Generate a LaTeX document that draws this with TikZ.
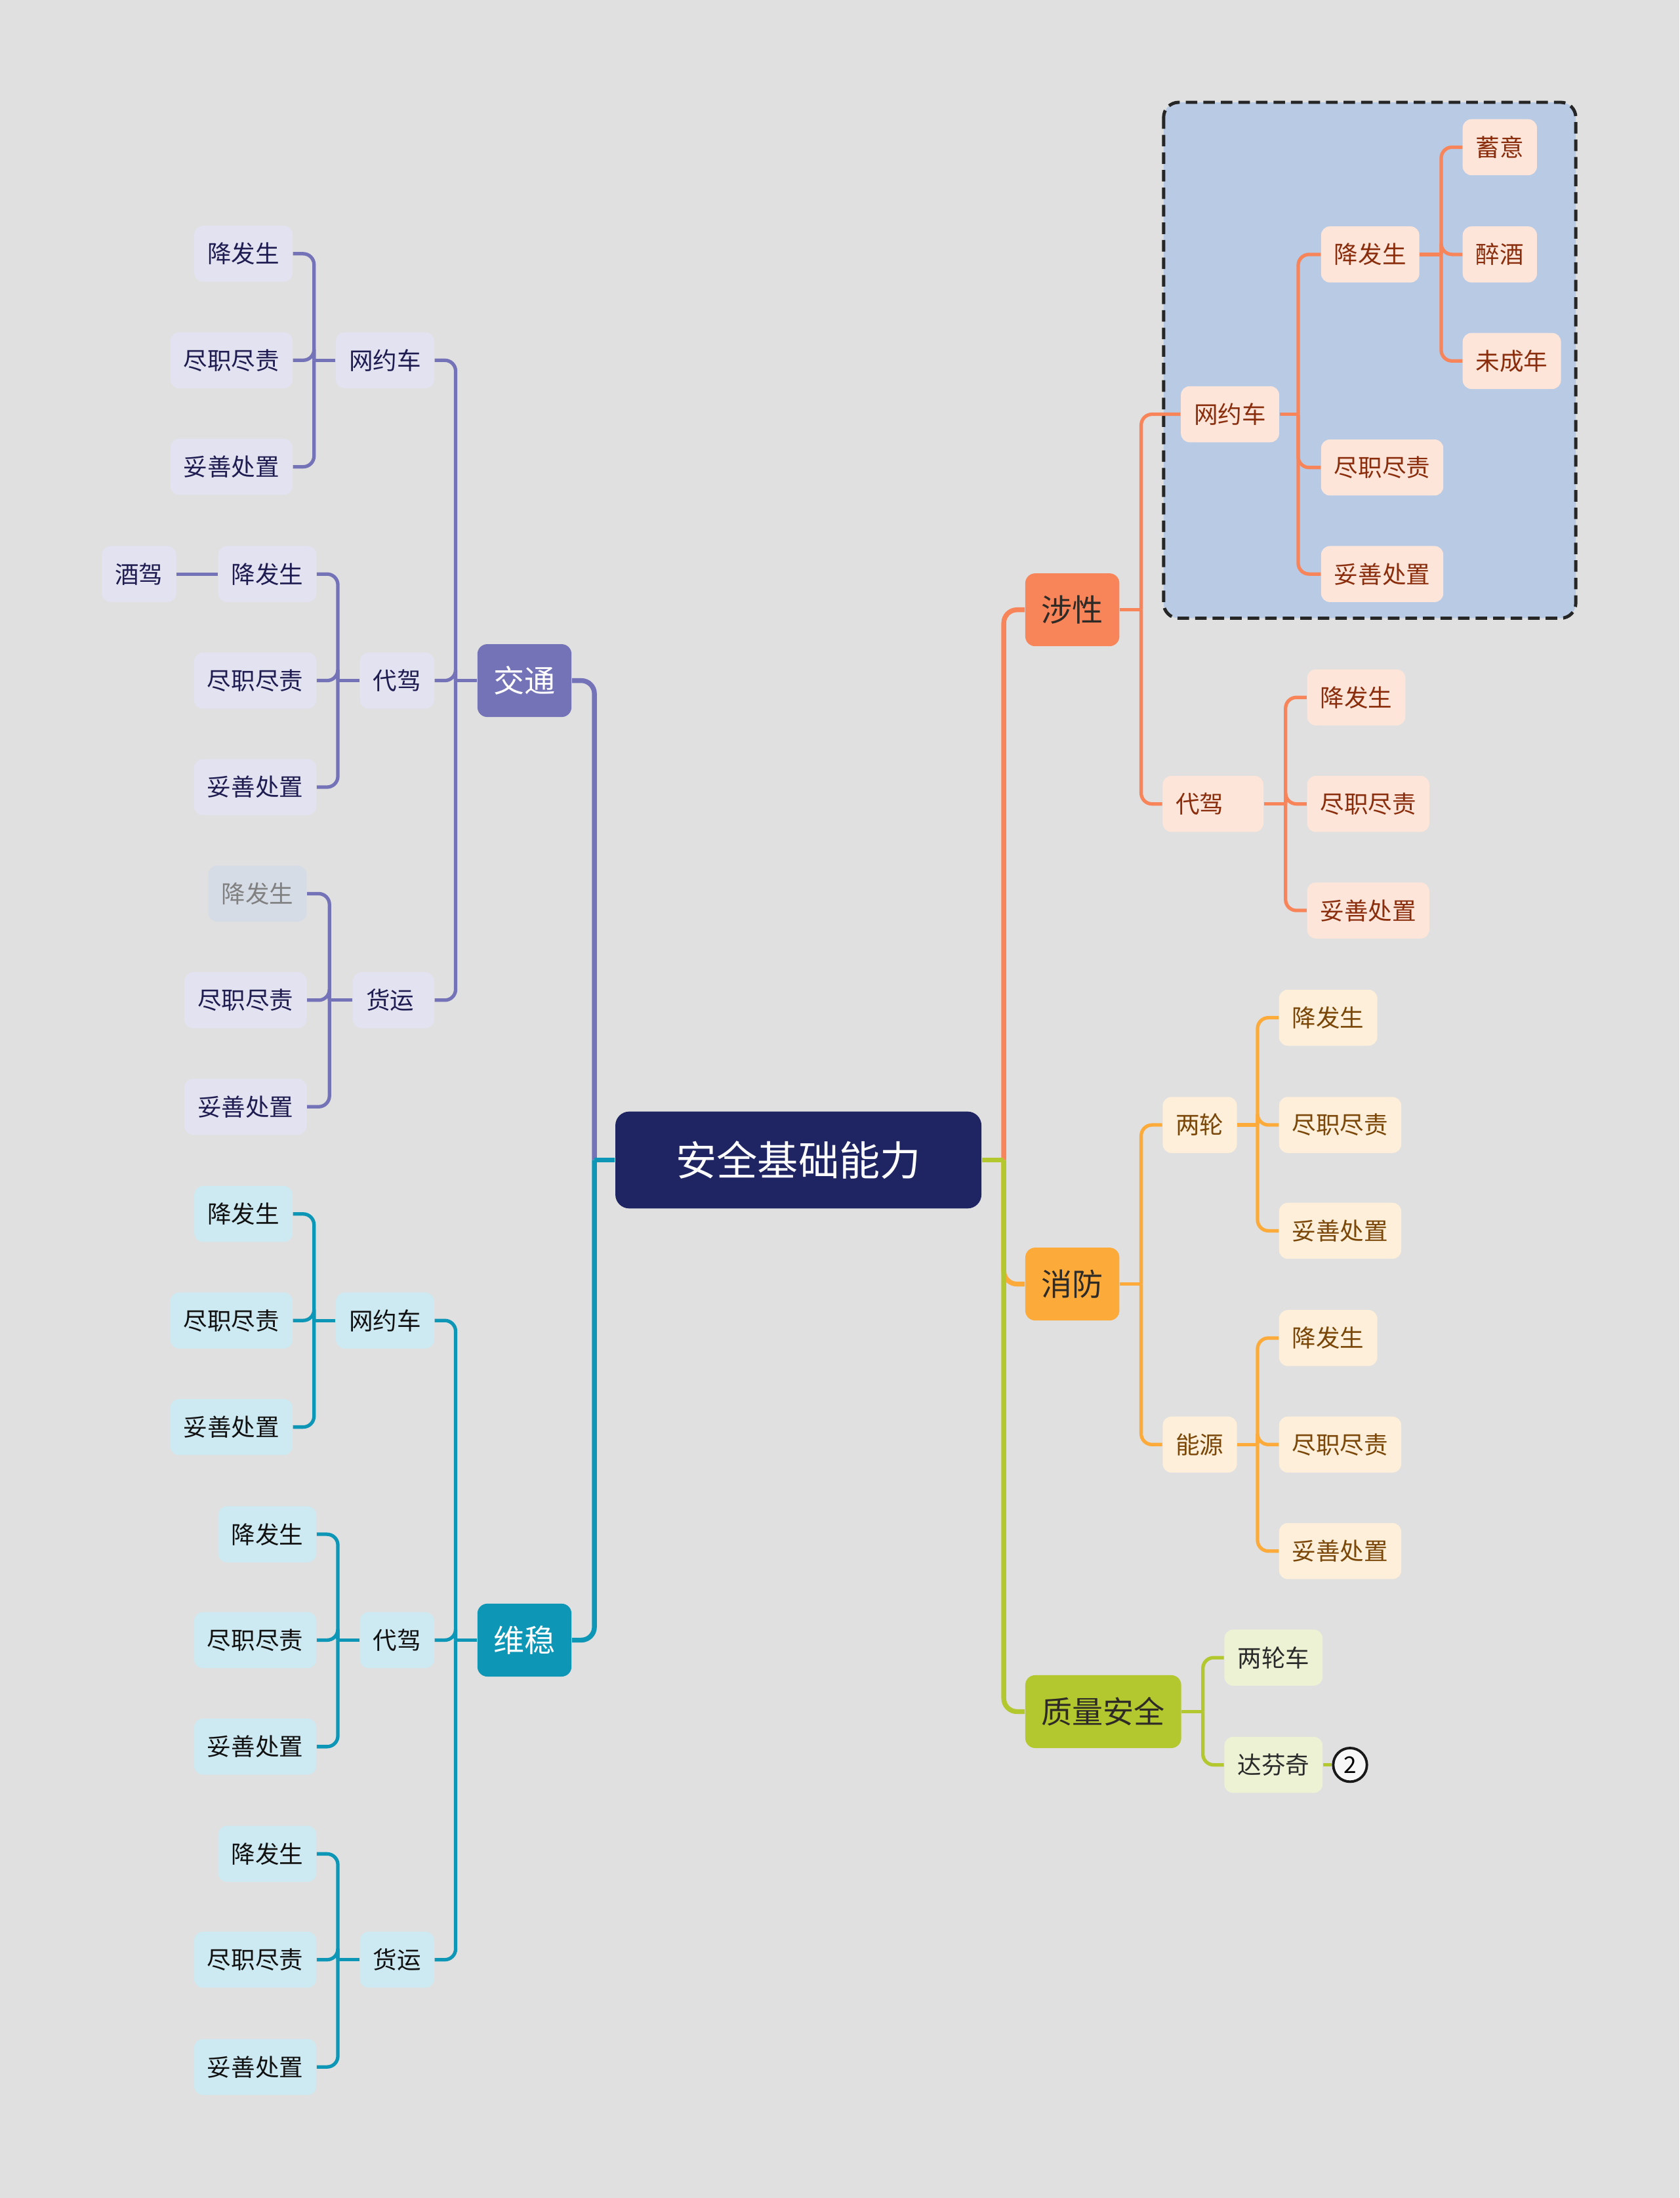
\documentclass[tikz,border=0pt]{standalone}
\usepackage{fontspec}
\setmainfont{Noto Sans CJK SC}
\definecolor{bgc}{HTML}{E0E0E0}
\definecolor{pur}{HTML}{7573B8}
\definecolor{tea}{HTML}{0E96B6}
\definecolor{ora}{HTML}{F8845A}
\definecolor{yel}{HTML}{FCAB3B}
\definecolor{grn}{HTML}{B3C72E}
\definecolor{rootc}{HTML}{1F2462}
\definecolor{jtf}{HTML}{E3E2F1}
\definecolor{jtt}{HTML}{1E1C50}
\definecolor{gryf}{HTML}{D6DCE6}
\definecolor{gryt}{HTML}{808080}
\definecolor{wsf}{HTML}{CDE9F2}
\definecolor{wst}{HTML}{111111}
\definecolor{sxf}{HTML}{FDE5DA}
\definecolor{sxt}{HTML}{8A2D0C}
\definecolor{xff}{HTML}{FDEFD9}
\definecolor{xft}{HTML}{7A4709}
\definecolor{zlf}{HTML}{EEF2D4}
\definecolor{zlt}{HTML}{2A2A2A}
\definecolor{dboxf}{HTML}{B8CAE4}
\definecolor{dkt}{HTML}{2E2A26}
\begin{document}
\begin{tikzpicture}[x=0.021369cm, y=-0.021369cm,
  leaf/.style={rounded corners=3.8pt, minimum height=24.3pt, inner xsep=5.7pt, inner ysep=0pt, font=\fontsize{10.4}{12}\selectfont},
  lone/.style={rounded corners=4.3pt, minimum height=31.6pt, inner xsep=7pt, inner ysep=0pt, font=\fontsize{13.4}{15}\selectfont},
  rootbox/.style={rounded corners=6pt, minimum width=158.7pt, minimum height=42pt, fill=rootc, text=white, font=\fontsize{17.7}{20}\selectfont},
  jl/.style={leaf, fill=jtf, text=jtt, anchor=east},
  jg/.style={leaf, fill=gryf, text=gryt, anchor=east},
  wl/.style={leaf, fill=wsf, text=wst, anchor=east},
  sl/.style={leaf, fill=sxf, text=sxt, anchor=west},
  xl/.style={leaf, fill=xff, text=xft, anchor=west},
  zlleaf/.style={leaf, fill=zlf, text=zlt, anchor=west},
  mainln/.style={line width=2.1pt, rounded corners=5.7pt},
  subln/.style={line width=1.5pt, rounded corners=4.7pt},
  dbox/.style={fill=dboxf, draw=black!85, line width=1.4pt, dash pattern=on 5pt off 2.6pt, rounded corners=6.5pt},
  numc/.style={circle, draw=black!90, line width=1.1pt, fill=white!97!black, minimum size=14.6pt, inner sep=0pt, font=\fontsize{10}{12}\selectfont}
]
\fill[bgc] (0,0) rectangle (1198,1568);
\useasboundingbox (0,0) rectangle (1198,1568);
\draw[dbox] (830,73) rectangle (1124,441);

% spine coordinates
\coordinate (vL0) at (424,0);
\coordinate (vR0) at (716,0);
\coordinate (vjt) at (325,0);
\coordinate (vjt1) at (224,0);
\coordinate (vjt2) at (241,0);
\coordinate (vjt3) at (235,0);
\coordinate (vws) at (325,0);
\coordinate (vws1) at (224,0);
\coordinate (vws2) at (241,0);
\coordinate (vws3) at (241,0);
\coordinate (vsx) at (814,0);
\coordinate (vsx1) at (926,0);
\coordinate (vsx1a) at (1028,0);
\coordinate (vsx2) at (917,0);
\coordinate (vxf) at (814,0);
\coordinate (vxf1) at (897,0);
\coordinate (vxf2) at (897,0);
\coordinate (vzl) at (858,0);

% root
\node[rootbox] (root) at (569.5,827.5) {安全基础能力};

% level 1
\node[lone, fill=pur, text=white, anchor=east] (jt) at (408,485.5) {交通};
\node[lone, fill=tea, text=white, anchor=east] (ws) at (408,1170) {维稳};
\node[lone, fill=ora, text=dkt, anchor=west] (sx) at (731,435) {涉性};
\node[lone, fill=yel, text=dkt, anchor=west] (xf) at (731,916) {消防};
\node[lone, fill=grn, text=dkt, anchor=west] (zl) at (731,1221) {质量安全};

% 交通 subtree
\node[jl] (jt1) at (310,257) {网约车};
\node[jl] (jt1a) at (209,181) {降发生};
\node[jl] (jt1b) at (209,257) {尽职尽责};
\node[jl] (jt1c) at (209,333) {妥善处置};
\node[jl] (jt2) at (310,485.5) {代驾};
\node[jl] (jt2a) at (226,409.5) {降发生};
\node[jl] (jt2x) at (126,409.5) {酒驾};
\node[jl] (jt2b) at (226,485.5) {尽职尽责};
\node[jl] (jt2c) at (226,561.5) {妥善处置};
\node[jl] (jt3) at (310,713.5) {货运\rule{3pt}{0pt}};
\node[jg] (jt3a) at (219,637.5) {降发生};
\node[jl] (jt3b) at (219,713.5) {尽职尽责};
\node[jl] (jt3c) at (219,789.5) {妥善处置};

% 维稳 subtree
\node[wl] (ws1) at (310,942) {网约车};
\node[wl] (ws1a) at (209,866) {降发生};
\node[wl] (ws1b) at (209,942) {尽职尽责};
\node[wl] (ws1c) at (209,1018) {妥善处置};
\node[wl] (ws2) at (310,1170) {代驾};
\node[wl] (ws2a) at (226,1094.5) {降发生};
\node[wl] (ws2b) at (226,1170) {尽职尽责};
\node[wl] (ws2c) at (226,1246) {妥善处置};
\node[wl] (ws3) at (310,1398) {货运};
\node[wl] (ws3a) at (226,1322.5) {降发生};
\node[wl] (ws3b) at (226,1398) {尽职尽责};
\node[wl] (ws3c) at (226,1474.5) {妥善处置};

% 涉性 subtree
\node[sl] (sx1) at (842,295.5) {网约车};
\node[sl] (sx1a) at (942,181.5) {降发生};
\node[sl] (sx1a1) at (1043,105) {蓄意};
\node[sl] (sx1a2) at (1043,181.5) {醉酒};
\node[sl] (sx1a3) at (1043,257.5) {未成年};
\node[sl] (sx1b) at (942,333.5) {尽职尽责};
\node[sl] (sx1c) at (942,409.5) {妥善处置};
\node[sl] (sx2) at (829,573.5) {代驾\rule{11.5pt}{0pt}};
\node[sl] (sx2a) at (932,497.5) {降发生};
\node[sl] (sx2b) at (932,573.5) {尽职尽责};
\node[sl] (sx2c) at (932,649.5) {妥善处置};

% 消防 subtree
\node[xl] (xf1) at (829,802.5) {两轮};
\node[xl] (xf1a) at (912,726) {降发生};
\node[xl] (xf1b) at (912,802.5) {尽职尽责};
\node[xl] (xf1c) at (912,878) {妥善处置};
\node[xl] (xf2) at (829,1030.5) {能源};
\node[xl] (xf2a) at (912,954.5) {降发生};
\node[xl] (xf2b) at (912,1030.5) {尽职尽责};
\node[xl] (xf2c) at (912,1106.5) {妥善处置};

% 质量安全 subtree
\node[zlleaf] (zl1) at (873,1182.5) {两轮车};
\node[zlleaf] (zl2) at (873,1259) {达芬奇};
\node[numc] (zlc) at (963,1259) {2};

% ---------- main connectors ----------
\draw[mainln, pur] (jt.east) -| (root.west -| vL0);
\draw[mainln, tea] (ws.east) -| (root.west -| vL0);
\draw[mainln, tea] (root.west) -- (root.west -| vL0);
\draw[mainln, ora] (sx.west) -| (root.east -| vR0);
\draw[mainln, yel] (xf.west) -| (root.east -| vR0);
\draw[mainln, grn] (zl.west) -| (root.east -| vR0);
\draw[mainln, grn] (root.east) -- (root.east -| vR0);

% ---------- 交通 ----------
\draw[subln, pur] (jt.west) -- (jt.west -| vjt);
\foreach \c in {jt1,jt2,jt3} \draw[subln, pur] (\c.east) -| (jt.west -| vjt);
\draw[subln, pur] (jt1.west) -- (jt1.west -| vjt1);
\foreach \c in {jt1a,jt1b,jt1c} \draw[subln, pur] (\c.east) -| (jt1.west -| vjt1);
\draw[subln, pur] (jt2.west) -- (jt2.west -| vjt2);
\foreach \c in {jt2a,jt2b,jt2c} \draw[subln, pur] (\c.east) -| (jt2.west -| vjt2);
\draw[subln, pur] (jt2a.west) -- (jt2x.east);
\draw[subln, pur] (jt3.west) -- (jt3.west -| vjt3);
\foreach \c in {jt3a,jt3b,jt3c} \draw[subln, pur] (\c.east) -| (jt3.west -| vjt3);

% ---------- 维稳 ----------
\draw[subln, tea] (ws.west) -- (ws.west -| vws);
\foreach \c in {ws1,ws2,ws3} \draw[subln, tea] (\c.east) -| (ws.west -| vws);
\draw[subln, tea] (ws1.west) -- (ws1.west -| vws1);
\foreach \c in {ws1a,ws1b,ws1c} \draw[subln, tea] (\c.east) -| (ws1.west -| vws1);
\draw[subln, tea] (ws2.west) -- (ws2.west -| vws2);
\foreach \c in {ws2a,ws2b,ws2c} \draw[subln, tea] (\c.east) -| (ws2.west -| vws2);
\draw[subln, tea] (ws3.west) -- (ws3.west -| vws3);
\foreach \c in {ws3a,ws3b,ws3c} \draw[subln, tea] (\c.east) -| (ws3.west -| vws3);

% ---------- 涉性 ----------
\draw[subln, ora] (sx.east) -- (sx.east -| vsx);
\foreach \c in {sx1,sx2} \draw[subln, ora] (\c.west) -| (sx.east -| vsx);
\draw[subln, ora] (sx1.east) -- (sx1.east -| vsx1);
\foreach \c in {sx1a,sx1b,sx1c} \draw[subln, ora] (\c.west) -| (sx1.east -| vsx1);
\draw[subln, ora] (sx1a.east) -- (sx1a.east -| vsx1a);
\foreach \c in {sx1a1,sx1a2,sx1a3} \draw[subln, ora] (\c.west) -| (sx1a.east -| vsx1a);
\draw[subln, ora] (sx2.east) -- (sx2.east -| vsx2);
\foreach \c in {sx2a,sx2b,sx2c} \draw[subln, ora] (\c.west) -| (sx2.east -| vsx2);

% ---------- 消防 ----------
\draw[subln, yel] (xf.east) -- (xf.east -| vxf);
\foreach \c in {xf1,xf2} \draw[subln, yel] (\c.west) -| (xf.east -| vxf);
\draw[subln, yel] (xf1.east) -- (xf1.east -| vxf1);
\foreach \c in {xf1a,xf1b,xf1c} \draw[subln, yel] (\c.west) -| (xf1.east -| vxf1);
\draw[subln, yel] (xf2.east) -- (xf2.east -| vxf2);
\foreach \c in {xf2a,xf2b,xf2c} \draw[subln, yel] (\c.west) -| (xf2.east -| vxf2);

% ---------- 质量安全 ----------
\draw[subln, grn] (zl.east) -- (zl.east -| vzl);
\foreach \c in {zl1,zl2} \draw[subln, grn] (\c.west) -| (zl.east -| vzl);
\draw[subln, grn] (zl2.east) -- (zlc.west);
\end{tikzpicture}
\end{document}
